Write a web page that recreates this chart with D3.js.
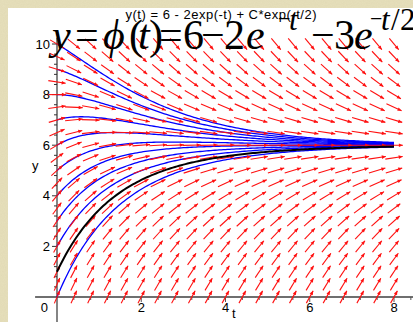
<!DOCTYPE html>
<html>
<head>
<meta charset="utf-8">
<script src="https://cdn.jsdelivr.net/npm/d3@7"></script>
<style>
  html, body { margin: 0; padding: 0; background: #e7e0bc; }
  svg { display: block; }
</style>
</head>
<body>
<div id="chart"></div>
<script>
// Direction field grid
const fieldT = [0, 0.4, 0.8, 1.2, 1.6, 2, 2.4, 2.8, 3.2, 3.6, 4, 4.4, 4.8, 5.2, 5.6, 6, 6.4, 6.8, 7.2, 7.6, 8];
const fieldY = [0, 0.5, 1, 1.5, 2, 2.5, 3, 3.5, 4, 4.5, 5, 5.5, 6, 6.5, 7, 7.5, 8, 8.5, 9, 9.5, 10];

// Initial values y(0) of the drawn solution curves
const blueStarts = [0, 2, 3, 4, 5, 6, 7, 8, 9, 10];
const blackStart = 1;

// Axis ticks
const tTicks = [2, 4, 6, 8];
const yTickVals = [2, 4, 6, 8, 10];
const minorStep = 0.4;

// y(t) = 6 - 2exp(-t) + C*exp(-t/2)  ->  y' = 3 + exp(-t) - y/2
const slope = (t, y) => 3 + Math.exp(-t) - y / 2;
const solution = (t, y0) => 6 - 2 * Math.exp(-t) + (y0 - 4) * Math.exp(-t / 2);

const width = 413;
const height = 322;

const svg = d3.select("#chart")
    .append("svg")
    .attr("width", width)
    .attr("height", height);

// beige backdrop with a little grain
const defs = svg.append("defs");
const grain = defs.append("filter").attr("id", "grain");
grain.append("feTurbulence")
    .attr("type", "fractalNoise")
    .attr("baseFrequency", 0.9)
    .attr("numOctaves", 2)
    .attr("seed", 3);
grain.append("feColorMatrix")
    .attr("values", "0 0 0 0 0.55  0 0 0 0 0.5  0 0 0 0 0.3  0 0 0 0.35 0");

svg.append("rect").attr("width", width).attr("height", height).attr("fill", "#e7e0bc");
svg.append("rect").attr("width", width).attr("height", height).attr("filter", "url(#grain)").attr("opacity", 0.5);

// white plot panel
svg.append("rect")
    .attr("x", 8).attr("y", 8)
    .attr("width", width - 8).attr("height", height - 8)
    .attr("fill", "#ffffff");

// Scales
const x = d3.scaleLinear().domain([0, 8]).range([57, 394]);
const y = d3.scaleLinear().domain([0, 10]).range([297, 44]);

// Axes (Maple style, through the origin)
const tView = [-0.52, 8.5];
const yView = [-0.99, 10.25];

svg.append("line")
    .attr("x1", x(tView[0])).attr("x2", x(tView[1]))
    .attr("y1", y(0)).attr("y2", y(0))
    .attr("stroke", "#6f6f6f").attr("stroke-width", 2);

svg.append("line")
    .attr("x1", x(0)).attr("x2", x(0))
    .attr("y1", y(yView[0])).attr("y2", y(yView[1]))
    .attr("stroke", "#333").attr("stroke-width", 1.2);

// minor + major ticks
const xMinor = d3.range(0, 8.41, minorStep).map(v => +v.toFixed(1)).filter(v => v > 0);
svg.append("g").selectAll("line")
    .data(xMinor)
    .join("line")
    .attr("x1", d => x(d)).attr("x2", d => x(d))
    .attr("y1", y(0))
    .attr("y2", d => y(0) + (tTicks.includes(d) ? 5 : 3))
    .attr("stroke", "#555").attr("stroke-width", 1);

const yMinor = d3.range(0, 10.21, minorStep).map(v => +v.toFixed(1)).filter(v => v > 0);
svg.append("g").selectAll("line")
    .data(yMinor)
    .join("line")
    .attr("y1", d => y(d)).attr("y2", d => y(d))
    .attr("x1", x(0))
    .attr("x2", d => x(0) - (yTickVals.includes(d) ? 5 : 3))
    .attr("stroke", "#333").attr("stroke-width", 1);

const labelFont = "'Liberation Sans', Arial, sans-serif";

svg.append("g").selectAll("text")
    .data(tTicks)
    .join("text")
    .attr("x", d => x(d))
    .attr("y", y(0) + 15)
    .attr("text-anchor", "middle")
    .style("font-family", labelFont)
    .style("font-size", "13px")
    .text(d => d);

svg.append("g").selectAll("text")
    .data(yTickVals)
    .join("text")
    .attr("x", x(0) - 7)
    .attr("y", d => y(d) + 4.5)
    .attr("text-anchor", "end")
    .style("font-family", labelFont)
    .style("font-size", "13px")
    .text(d => d);

svg.append("text")
    .attr("x", x(0) - 9)
    .attr("y", y(0) + 15)
    .attr("text-anchor", "end")
    .style("font-family", labelFont)
    .style("font-size", "13px")
    .text("0");

// axis names
svg.append("text")
    .attr("x", 232).attr("y", 318)
    .style("font-family", labelFont)
    .style("font-size", "13px")
    .text("t");

svg.append("text")
    .attr("x", 32).attr("y", 170)
    .style("font-family", labelFont)
    .style("font-size", "13px")
    .text("y");

// Solution curves
const tSamples = d3.range(0, 8.0001, 0.05);
const line = d3.line()
    .x(d => x(d[0]))
    .y(d => y(d[1]))
    .curve(d3.curveLinear);

svg.append("g")
    .selectAll("path")
    .data(blueStarts)
    .join("path")
    .attr("d", y0 => line(tSamples.map(t => [t, solution(t, y0)])))
    .attr("fill", "none")
    .attr("stroke", "#0000ff")
    .attr("stroke-width", 1.3);

// Direction field arrows
const cellW = x(fieldT[1]) - x(fieldT[0]);
const cellH = y(fieldY[0]) - y(fieldY[1]);
const dT = fieldT[1] - fieldT[0];
const dY = fieldY[1] - fieldY[0];
const arrowScale = 1.05;

const arrows = [];
fieldT.forEach(t => {
    fieldY.forEach(v => {
        const f = slope(t, v);
        const u = 1 / dT, w = f / dY;
        const n = Math.hypot(u, w);
        const dx = (u / n) * arrowScale * cellW;
        const dy = -(w / n) * arrowScale * cellH;
        arrows.push({ cx: x(t), cy: y(v), dx, dy });
    });
});

const arrowG = svg.append("g");
arrowG.selectAll("line")
    .data(arrows)
    .join("line")
    .attr("x1", d => d.cx - d.dx / 2)
    .attr("y1", d => d.cy - d.dy / 2)
    .attr("x2", d => d.cx + d.dx / 2)
    .attr("y2", d => d.cy + d.dy / 2)
    .attr("stroke", "#ff1010")
    .attr("stroke-width", 1.1);

arrowG.selectAll("path")
    .data(arrows)
    .join("path")
    .attr("d", d => {
        const len = Math.hypot(d.dx, d.dy);
        const ux = d.dx / len, uy = d.dy / len;
        const tx = d.cx + d.dx / 2, ty = d.cy + d.dy / 2;
        const bx = tx - ux * 4, by = ty - uy * 4;
        return `M${tx},${ty}L${bx - uy * 1.8},${by + ux * 1.8}L${bx + uy * 1.8},${by - ux * 1.8}Z`;
    })
    .attr("fill", "#ff1010");

// particular solution in black
svg.append("path")
    .attr("d", line(tSamples.map(t => [t, solution(t, blackStart)])))
    .attr("fill", "none")
    .attr("stroke", "#000")
    .attr("stroke-width", 2);

// plot title
svg.append("text")
    .attr("x", 221).attr("y", 19)
    .attr("text-anchor", "middle")
    .attr("textLength", 191)
    .style("font-family", labelFont)
    .style("font-size", "13px")
    .text("y(t) = 6 - 2exp(-t) + C*exp(-t/2)");

// big formula pasted over the plot
const serif = "'Liberation Serif', 'Times New Roman', serif";
const formula = [
    { s: "y", x: 52, italic: true },
    { s: "=", x: 75 },
    { s: "\u03D5", x: 103, italic: true },
    { s: "(", x: 129 },
    { s: "t", x: 138, italic: true },
    { s: ")", x: 149 },
    { s: "=", x: 159 },
    { s: "6", x: 183 },
    { s: "\u2212", x: 201 },
    { s: "2", x: 224 },
    { s: "e", x: 246, italic: true },
    { s: "\u2212", x: 278, y: 26, size: 22 },
    { s: "t", x: 289, italic: true, sup: true },
    { s: "\u2212", x: 311 },
    { s: "3", x: 334 },
    { s: "e", x: 354, italic: true },
    { s: "\u2212", x: 370, y: 26, size: 22 },
    { s: "t", x: 381, italic: true, sup: true },
    { s: "/", x: 391, sup: true },
    { s: "2", x: 400, sup: true }
];

svg.append("g").selectAll("text")
    .data(formula)
    .join("text")
    .attr("x", d => d.x)
    .attr("y", d => d.y || (d.sup ? 30 : 49))
    .style("font-family", serif)
    .style("font-size", d => (d.size || (d.sup ? 31 : 42)) + "px")
    .style("font-style", d => d.italic ? "italic" : "normal")
    .attr("fill", "#000")
    .text(d => d.s);
</script>
</body>
</html>
